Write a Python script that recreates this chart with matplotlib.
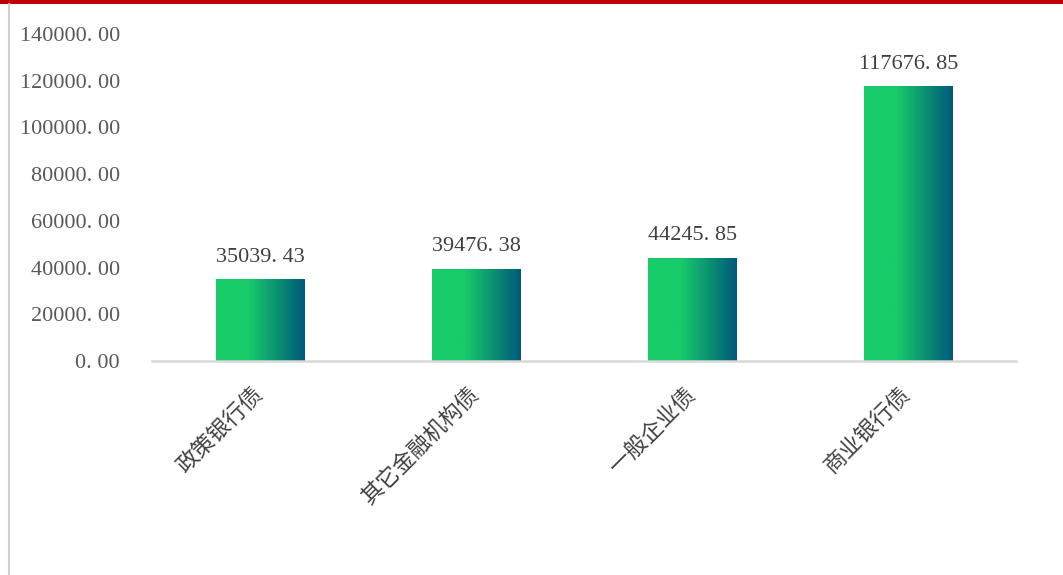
import matplotlib
matplotlib.use("Agg")
import matplotlib.pyplot as plt
import numpy as np
from matplotlib.colors import LinearSegmentedColormap
from matplotlib.lines import Line2D
from matplotlib.patches import Rectangle

plt.rcParams['font.family'] = ['Liberation Serif', 'Noto Sans CJK SC', 'DejaVu Sans']

categories = ["政策银行债", "其它金融机构债", "一般企业债", "商业银行债"]
values = [35039.43, 39476.38, 44245.85, 117676.85]
yticks = [0, 20000, 40000, 60000, 80000, 100000, 120000, 140000]

green = "#18cc6a"
teal = "#005a7a"
cmap = LinearSegmentedColormap.from_list("bar", [(0, green), (0.36, green), (1, teal)])
grad = np.linspace(0, 1, 256).reshape(1, -1)

fig = plt.figure(figsize=(10.63, 5.75), dpi=100)
ax = fig.add_axes([0.143, 0.372, 0.813, 0.569])

x = np.arange(len(categories))
width = 0.41
bars = ax.bar(x, values, width=width, color="none", edgecolor="none")
for b, v in zip(bars, values):
    im = ax.imshow(grad, cmap=cmap, aspect="auto",
                   extent=[b.get_x(), b.get_x() + b.get_width(), 0, v], zorder=2)
    im.set_clip_path(b)
    ax.annotate(f"{v:.2f}".replace(".", ". "), (b.get_x() + b.get_width() / 2, v),
                xytext=(0, 9), textcoords="offset points", ha="center", va="bottom",
                fontsize=16, color="#404040")

ax.set_xlim(-0.5, len(categories) - 0.5)
ax.set_ylim(0, 140000)
ax.set_yticks(yticks)
ax.set_yticklabels([f"{t:.2f}".replace(".", ". ") for t in yticks], fontsize=16, color="#595959")
ax.set_xticks(x)
ax.set_xticklabels(categories, rotation=45, ha="right", va="center", rotation_mode="anchor",
                   fontsize=16, color="#404040")
ax.tick_params(axis="both", length=0)
ax.tick_params(axis="y", pad=23)
ax.tick_params(axis="x", pad=22)

for s in ["top", "right", "left"]:
    ax.spines[s].set_visible(False)
ax.spines["bottom"].set_color("#d9d9d9")
ax.spines["bottom"].set_linewidth(1.8)

# red header strip and left frame line
fig.add_artist(Rectangle((0, 1 - 4 / 575), 1, 4 / 575, transform=fig.transFigure,
                         color="#c00000", lw=0))
fig.add_artist(Line2D([8.5 / 1063, 8.5 / 1063], [0, 1 - 4 / 575], transform=fig.transFigure,
                      color="#d0d0d0", lw=1.5))

fig.savefig("out.png", dpi=100)
